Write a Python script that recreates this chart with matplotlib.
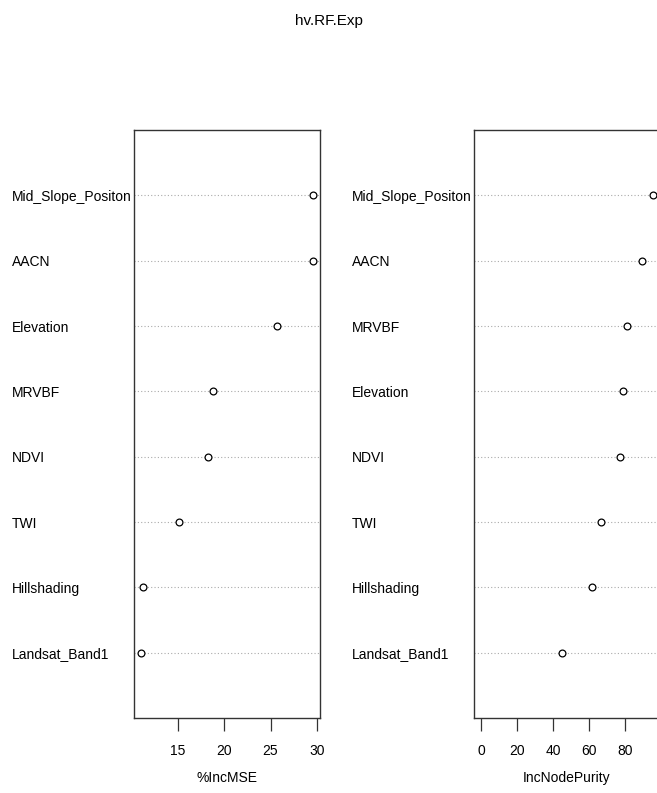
import matplotlib
matplotlib.use('Agg')
import matplotlib.pyplot as plt

plt.rcParams['font.family'] = ['Liberation Sans', 'DejaVu Sans']

# data, top to bottom as drawn
mse_vars = ['Mid_Slope_Positon', 'AACN', 'Elevation', 'MRVBF', 'NDVI', 'TWI',
            'Hillshading', 'Landsat_Band1']
mse_vals = [29.6, 29.6, 25.7, 18.8, 18.2, 15.1, 11.2, 11.0]
mse_ticks = [15, 20, 25, 30]

purity_vars = ['Mid_Slope_Positon', 'AACN', 'MRVBF', 'Elevation', 'NDVI', 'TWI',
               'Hillshading', 'Landsat_Band1']
purity_vals = [95.6, 89.4, 81.0, 79.0, 77.0, 66.7, 61.7, 45.0]
purity_ticks = [0, 20, 40, 60, 80]

W, H = 657, 793
fs = 10
fig = plt.figure(figsize=(W / 100, H / 100), dpi=100)
fig.text(0.5, 1 - 21 / H, 'hv.RF.Exp', ha='center', va='center', fontsize=11)


def dotpanel(x0, names_, vals, ticks, xlab, lo, hi):
    ax = fig.add_axes([x0 / W, 1 - 718 / H, 186 / W, 588 / H])
    n = len(vals)
    ys = list(range(n, 0, -1))
    span = hi - lo
    ax.set_xlim(lo - 0.04 * span, hi + 0.04 * span)
    ax.set_ylim(0, n + 1)
    for y in ys:
        ax.axhline(y, color='#aaaaaa', lw=0.8, ls=(0, (1, 2)), zorder=1)
    ax.scatter(vals, ys, s=24, facecolors='white', edgecolors='black', lw=0.9, zorder=3)
    ax.set_yticks(ys)
    ax.set_yticklabels(names_, ha='left', fontsize=fs)
    ax.tick_params(axis='y', length=0, pad=122 * 0.72)
    ax.set_xticks(ticks)
    ax.tick_params(axis='x', length=9, width=0.9, labelsize=fs, pad=10, color='#333333')
    ax.set_xlabel(xlab, fontsize=fs, labelpad=9)
    for s in ax.spines.values():
        s.set_color('#333333')
        s.set_linewidth(1.0)
    return ax


dotpanel(134, mse_vars, mse_vals, mse_ticks, '%IncMSE', min(mse_vals), max(mse_vals))
dotpanel(474, purity_vars, purity_vals, purity_ticks, 'IncNodePurity', 0, max(purity_vals))

fig.savefig('out.png', dpi=100)
